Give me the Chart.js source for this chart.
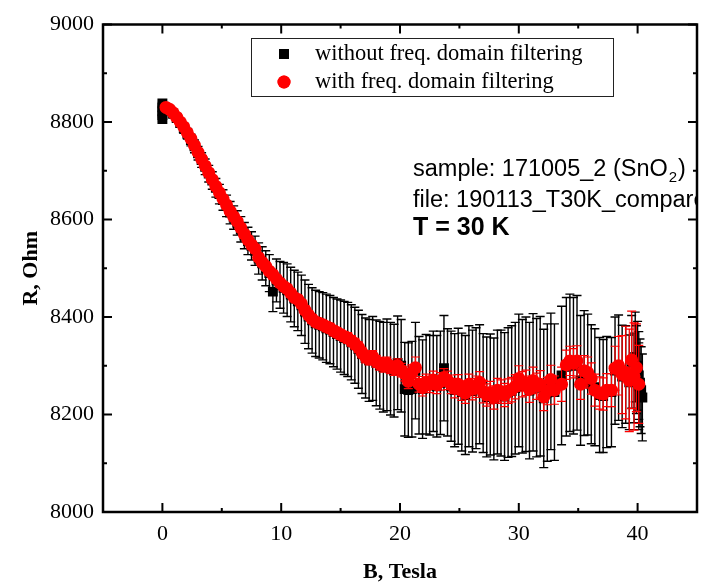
<!DOCTYPE html>
<html><head><meta charset="utf-8">
<script src="https://cdn.jsdelivr.net/npm/chart.js@4/dist/chart.umd.min.js"></script>
<style>html,body{margin:0;padding:0;background:#fff;}#wrap{width:704px;height:583px;}</style>
</head><body><div id="wrap"><canvas id="c" width="704" height="583"></canvas></div>
<script>
// ---------- data ----------
const fieldB = [
 0.3,0.6,0.9,1.2,1.5,1.8,2.1,2.4,2.7,3.0,
 3.3,3.6,3.9,4.2,4.5,4.8,5.1,5.4,5.7,6.0,
 6.3,6.6,6.9,7.2,7.5,7.8,8.1,8.4,8.7,9.0,
 9.3,9.6,9.9,10.2,10.5,10.8,11.1,11.4,11.7,12.0,
 12.3,12.6,12.9,13.2,13.5,13.8,14.1,14.4,14.7,15.0,
 15.3,15.6,15.9,16.2,16.5,16.8,17.1,17.4,17.7,18.0,
 18.3,18.6,18.9,19.2,19.5,19.8,20.1,20.4,20.7,21.0,
 21.3,21.6,21.9,22.2,22.5,22.8,23.1,23.4,23.7,24.0,
 24.3,24.6,24.9,25.2,25.5,25.8,26.1,26.4,26.7,27.0,
 27.3,27.6,27.9,28.2,28.5,28.8,29.1,29.4,29.7,30.0,
 30.3,30.6,30.9,31.2,31.5,31.8,32.1,32.4,32.7,33.0,
 33.6,34.0,34.3,34.6,34.9,35.2,35.5,35.8,36.1,36.4,
 36.8,37.1,37.4,37.8,38.1,38.4,38.7,39.0,39.3,39.5,
 39.7,39.9,40.1
];
const redR = [
 8830,8826,8819,8810,8800,8790,8778,8766,8752,8738,
 8724,8710,8696,8682,8668,8655,8642,8630,8617,8606,
 8596,8583,8570,8558,8548,8540,8522,8512,8504,8494,
 8487,8478,8470,8463,8458,8449,8440,8436,8427,8414,
 8404,8396,8390,8387,8384,8380,8377,8372,8368,8364,
 8360,8357,8351,8345,8338,8327,8318,8314,8319,8309,
 8304,8300,8305,8297,8294,8300,8291,8284,8268,8286,
 8296,8262,8255,8266,8262,8271,8261,8268,8276,8270,
 8262,8254,8262,8249,8244,8262,8252,8257,8266,8247,
 8240,8245,8235,8250,8247,8240,8248,8251,8257,8274,
 8262,8265,8252,8270,8258,8262,8236,8248,8272,8250,
 8262,8302,8310,8305,8310,8262,8290,8286,8274,8250,
 8244,8242,8250,8250,8295,8300,8282,8286,8270,8312,
 8278,8296,8262
];
const redErr = [
 3,3,3,3,3,4,4,4,4,4,
 4,4,5,5,5,5,5,5,5,6,
 6,6,6,6,6,6,7,7,7,7,
 7,7,8,8,8,8,8,8,8,9,
 9,9,9,9,9,10,10,10,10,10,
 10,11,11,11,11,11,12,12,12,12,
 13,13,13,13,14,14,14,15,15,16,
 22,16,17,17,17,18,18,18,18,19,
 19,20,20,20,21,21,22,22,22,23,
 23,23,24,24,24,24,25,25,25,26,
 26,26,27,27,27,28,28,28,29,29,
 35,30,30,30,31,31,31,32,32,33,
 33,33,34,34,45,60,80,95,105,100,
 110,90,80
];
const blackR = [
 8828,8823,8817,8808,8798,8787,8776,8763,8750,8736,
 8722,8708,8694,8680,8665,8652,8640,8628,8614,8604,
 8593,8580,8567,8556,8546,8536,8520,8510,8500,8490,
 8452,8475,8466,8460,8455,8446,8438,8432,8424,8411,
 8401,8393,8387,8384,8381,8377,8374,8369,8365,8361,
 8357,8354,8348,8342,8334,8324,8316,8311,8315,8306,
 8301,8297,8302,8294,8290,8306,8300,8252,8250,8252,
 8290,8260,8252,8262,8260,8268,8258,8265,8295,8266,
 8258,8250,8258,8246,8240,8258,8248,8254,8262,8244,
 8236,8241,8232,8246,8244,8237,8245,8248,8254,8270,
 8258,8262,8249,8266,8255,8258,8233,8245,8268,8246,
 8280,8298,8306,8300,8306,8270,8285,8282,8262,8256,
 8240,8238,8246,8246,8290,8296,8278,8282,8266,8308,
 8275,8292,8258
];
const blackErr = [
 5,6,7,8,9,10,11,12,13,14,
 15,16,17,18,19,20,21,22,23,24,
 25,26,27,28,29,30,32,34,36,38,
 41,44,48,52,54,56,58,60,62,65,
 66,67,68,68,69,70,70,71,72,74,
 75,76,77,78,80,81,82,84,86,88,
 90,92,94,95,95,96,95,96,97,98,
 99,100,101,102,102,103,104,106,108,110,
 113,116,119,121,122,124,125,124,122,122,
 123,124,125,127,129,131,133,134,135,136,
 137,138,140,141,142,143,142,141,140,140,
 142,142,141,140,138,133,128,124,122,120,
 118,116,114,112,110,108,105,100,97,95,
 92,90,89
];
const blackExtraB   = [0, 0, 0, 0, 0, 39.8, 40.0, 40.1, 40.2, 40.3, 40.4];
const blackExtraR   = [8806, 8814, 8822, 8830, 8838, 8318, 8300, 8280, 8265, 8250, 8235];
const blackExtraErr = [4, 4, 4, 4, 4, 92, 91, 90, 90, 89, 89];

const xTickVals = [0, 10, 20, 30, 40];
const xMinorVals = [5, 15, 25, 35];
const yTickVals = [8000, 8200, 8400, 8600, 8800, 9000];
const yMinorVals = [8100, 8300, 8500, 8700, 8900];
const seriesLabels = ['without freq. domain filtering', 'with freq. domain filtering'];

// ---------- build datasets ----------
const blackB = blackExtraB.slice(0,5).concat(fieldB, blackExtraB.slice(5));
const blackV = blackExtraR.slice(0,5).concat(blackR, blackExtraR.slice(5));
const blackE = blackExtraErr.slice(0,5).concat(blackErr, blackExtraErr.slice(5));
const blackPts = blackB.map((b,i)=>({x:b, y:blackV[i]}));
const redPts = fieldB.map((b,i)=>({x:b, y:redR[i]}));

const SERIF = '"Liberation Serif", "Times New Roman", serif';
const SANS = '"Liberation Sans", Arial, sans-serif';

const errBars = {
  id: 'errBars',
  beforeDatasetDraw(chart, args) {
    const ds = chart.data.datasets[args.index];
    if (!ds.errors) return;
    const {ctx, scales:{x, y}} = chart;
    ctx.save();
    ctx.strokeStyle = ds.errColor;
    ctx.lineWidth = ds.errWidth;
    ds.data.forEach((p, i) => {
      const e = ds.errors[i];
      const px = x.getPixelForValue(p.x);
      const yt = y.getPixelForValue(p.y + e);
      const yb = y.getPixelForValue(p.y - e);
      ctx.beginPath();
      ctx.moveTo(px, yt); ctx.lineTo(px, yb);
      ctx.moveTo(px - 4.5, yt); ctx.lineTo(px + 4.5, yt);
      ctx.moveTo(px - 4.5, yb); ctx.lineTo(px + 4.5, yb);
      ctx.stroke();
    });
    ctx.restore();
  }
};

const decor = {
  id: 'decor',
  afterDatasetsDraw(chart) {
    const {ctx, chartArea:a, scales:{x, y}} = chart;
    // annotations (clipped to plot frame)
    ctx.save();
    ctx.beginPath(); ctx.rect(a.left, a.top, a.right - a.left, a.bottom - a.top); ctx.clip();
    ctx.fillStyle = '#000'; ctx.textAlign = 'left'; ctx.textBaseline = 'alphabetic';
    const tx = 413;
    ctx.font = '23.5px ' + SANS;
    const s1 = 'sample: 171005_2 (SnO';
    ctx.fillText(s1, tx, 176);
    const w1 = ctx.measureText(s1).width;
    ctx.font = '15px ' + SANS;
    ctx.fillText('2', tx + w1 + 1, 182);
    const w2 = ctx.measureText('2').width;
    ctx.font = '23.5px ' + SANS;
    ctx.fillText(')', tx + w1 + w2 + 2, 176);
    ctx.fillText('file: 190113_T30K_compare', tx, 207);
    ctx.font = 'bold 25px ' + SANS;
    ctx.fillText('T = 30 K', tx, 235);
    ctx.restore();

    // frame and inward ticks
    ctx.save();
    ctx.strokeStyle = '#000';
    ctx.lineWidth = 2.5;
    ctx.strokeRect(a.left, a.top, a.right - a.left, a.bottom - a.top);
    ctx.lineWidth = 2;
    ctx.beginPath();
    xTickVals.forEach(v => { const p = x.getPixelForValue(v);
      ctx.moveTo(p, a.bottom); ctx.lineTo(p, a.bottom - 9);
      ctx.moveTo(p, a.top); ctx.lineTo(p, a.top + 9); });
    xMinorVals.forEach(v => { const p = x.getPixelForValue(v);
      ctx.moveTo(p, a.bottom); ctx.lineTo(p, a.bottom - 4);
      ctx.moveTo(p, a.top); ctx.lineTo(p, a.top + 4); });
    yTickVals.forEach(v => { const p = y.getPixelForValue(v);
      ctx.moveTo(a.left, p); ctx.lineTo(a.left + 9, p);
      ctx.moveTo(a.right, p); ctx.lineTo(a.right - 9, p); });
    yMinorVals.forEach(v => { const p = y.getPixelForValue(v);
      ctx.moveTo(a.left, p); ctx.lineTo(a.left + 4, p);
      ctx.moveTo(a.right, p); ctx.lineTo(a.right - 4, p); });
    ctx.stroke();

    // legend box
    ctx.lineWidth = 1;
    ctx.strokeStyle = '#222';
    ctx.strokeRect(251.5, 38.5, 362, 58);
    const dss = chart.data.datasets;
    const rows = [54, 82];
    dss.forEach((ds, i) => {
      ctx.fillStyle = ds.backgroundColor;
      Chart.helpers.drawPoint(ctx, {pointStyle: ds.pointStyle, radius: ds.pointRadius, rotation: 0, borderWidth: 0}, 284, rows[i]);
      ctx.fill();
      ctx.fillStyle = '#000';
      ctx.font = '22.5px ' + SERIF;
      ctx.textBaseline = 'middle';
      ctx.fillText(ds.label, 315, rows[i]);
    });
    ctx.restore();
  }
};

new Chart(document.getElementById('c'), {
  type: 'scatter',
  data: {
    datasets: [
      { label: seriesLabels[0], data: blackPts, errors: blackE, errColor: '#000', errWidth: 1.4,
        pointStyle: 'rect', pointRadius: 7, borderWidth: 0,
        backgroundColor: '#000', borderColor: '#000', order: 2 },
      { label: seriesLabels[1], data: redPts, errors: redErr, errColor: '#ff0000', errWidth: 1.2,
        pointStyle: 'circle', pointRadius: 6.5, borderWidth: 0,
        backgroundColor: '#ff0000', borderColor: '#ff0000', order: 1 }
    ]
  },
  options: {
    responsive: false, devicePixelRatio: 1, animation: false,
    layout: { padding: { left: 0, right: 3, top: 24.5, bottom: 0 } },
    plugins: { legend: { display: false }, tooltip: { enabled: false } },
    scales: {
      x: {
        type: 'linear', min: -5, max: 45,
        afterBuildTicks(s) { s.ticks = xTickVals.map(v => ({value: v})); },
        afterFit(s) { s.height = 71; },
        grid: { display: false, drawTicks: false }, border: { display: false },
        ticks: { color: '#000', font: { family: SERIF, size: 22 }, padding: 9, maxRotation: 0, autoSkip: false,
                 callback: v => String(v) },
        title: { display: true, text: 'B, Tesla', color: '#000',
                 font: { family: SERIF, size: 22, weight: 'bold', lineHeight: 1 }, padding: { top: 0, bottom: 0 } }
      },
      y: {
        type: 'linear', min: 8000, max: 9000,
        afterBuildTicks(s) { s.ticks = yTickVals.map(v => ({value: v})); },
        afterFit(s) { s.width = 103; },
        grid: { display: false, drawTicks: false }, border: { display: false },
        ticks: { color: '#000', font: { family: SERIF, size: 22 }, padding: 9, autoSkip: false,
                 callback: v => String(v) },
        title: { display: true, text: 'R, Ohm', color: '#000',
                 font: { family: SERIF, size: 22, weight: 'bold', lineHeight: 1 }, padding: { top: 20, bottom: 0 } }
      }
    }
  },
  plugins: [errBars, decor]
});
</script></body></html>
